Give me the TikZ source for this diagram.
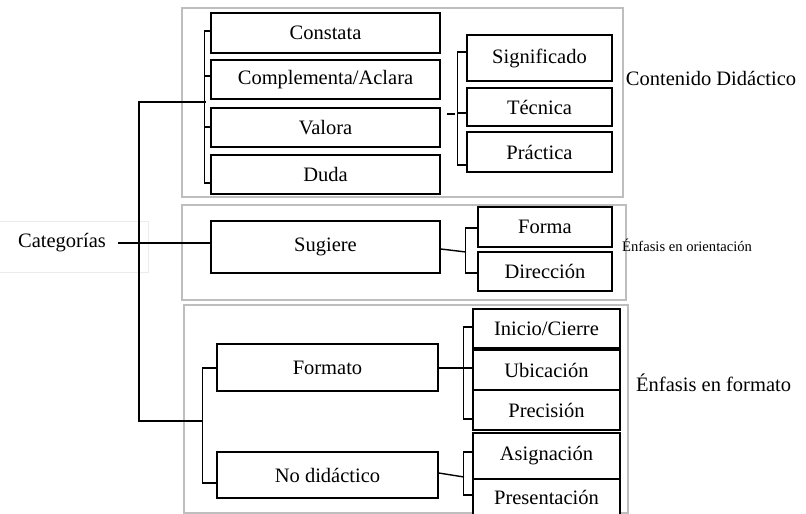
\documentclass[tikz,border=0pt]{standalone}
\usepackage{fontspec}
\setmainfont{Liberation Serif}
\usetikzlibrary{calc}
\definecolor{framegray}{HTML}{BEBEBE}
\definecolor{lightgray}{HTML}{ECECEC}
\tikzset{
  bx/.style={draw=black, line width=1.5pt, fill=white, inner sep=0pt, font=\fontsize{20.5}{24}\selectfont},
  frm/.style={draw=framegray, line width=2pt},
  ln/.style={draw=black, line width=1.4pt},
  lbl/.style={inner sep=0pt, font=\fontsize{20.5}{24}\selectfont},
}
\newcommand{\bxat}[6]{% name, x1,y1,x2,y2, text
  \node[bx, minimum width={(#4-#2)*1pt}, minimum height={(#5-#3)*1pt}] (#1) at ({(#2+#4)/2},{(#3+#5)/2}) {#6};}
\begin{document}
\begin{tikzpicture}[x=1pt,y=-1pt]
\useasboundingbox (0,0) rectangle (806,514);
% frames
\draw[frm] (182,8) rectangle (623,197);
\draw[frm] (182,205) rectangle (626,300);
\draw[frm] (184,305) rectangle (628,513);
\draw[draw=lightgray, line width=1pt] (-5,221) rectangle (148,272);
% labels
\node[lbl] (cat) at (62,243) {Categorías};
\node[lbl] (cont) at (711,78) {Contenido Didáctico};
\node[lbl, anchor=west, font=\fontsize{14.6}{17}\selectfont] (eo) at (622,245) {Énfasis en orientación};
\node[lbl, anchor=west] (ef) at (636,383) {Énfasis en formato};
% boxes
\bxat{constata}{211}{13}{440}{53}{Constata}
\bxat{compl}{211}{60}{440}{99}{Complementa/Aclara}
\bxat{valora}{211}{108}{440}{147}{Valora}
\bxat{duda}{211}{155}{440}{194}{Duda}
\bxat{signif}{467}{35}{612}{81}{Significado}
\bxat{tecnica}{467}{88}{612}{126}{Técnica}
\bxat{practica}{467}{132}{612}{172}{Práctica}
\bxat{sugiere}{211}{221}{440}{273}{Sugiere}
\bxat{forma}{478}{207}{612}{247}{Forma}
\bxat{direccion}{478}{252}{612}{291}{Dirección}
\bxat{formato}{217}{344}{438}{391}{Formato}
\bxat{nodid}{217}{452}{438}{498}{No didáctico}
\bxat{inicio}{473}{309}{620}{348}{Inicio/Cierre}
\bxat{ubic}{473}{350}{620}{390}{Ubicación}
\bxat{precis}{473}{390}{620}{430}{Precisión}
\bxat{asign}{473}{433}{620}{479}{Asignación}
\bxat{present}{473}{479}{620}{516}{Presentación}
% trunk
\coordinate (b1) at (205.5,102);
\coordinate (t1) at (139,102);
\coordinate (t2) at (139,421);
\coordinate (b2) at (203,421);
\draw[ln] (b1) -- (t1) -- (t2) -- (b2);
% categorias to sugiere
\draw[ln] ([xshift=12pt]cat.east) -- (sugiere.west |- cat.east);
% bracket 1
\draw[ln] (constata.west |- 0,31) -- ++(-5.5,0) |- (duda.west |- 0,183);
\draw[ln] (compl.west |- 0,76) -- ++(-5.5,0);
\draw[ln] (valora.west |- 0,127) -- ++(-5.5,0);
% dash near valora
\coordinate (d1) at (447,114);
\coordinate (d2) at (455,114);
\draw[ln] (d1) -- (d2);
% bracket 2
\draw[ln] (signif.west |- 0,52) -- ++(-9,0) |- (practica.west |- 0,165);
\draw[ln] (tecnica.west |- 0,113) -- ++(-9,0);
% sugiere right
\coordinate (s2) at (466,252);
\draw[ln] (sugiere.east |- 0,249) -- (s2);
\draw[ln] (forma.west |- 0,228) -- ++(-12,0) |- (direccion.west |- 0,273);
% formato / no didactico bracket
\draw[ln] (formato.west |- 0,368) -- ++(-14,0) |- (nodid.west |- 0,483);
% formato right
\draw[ln] (formato.east |- 0,368) -- (ubic.west |- 0,368);
\draw[ln] (inicio.west |- 0,327) -- ++(-9,0) |- (precis.west |- 0,419);
% no didactico right
\coordinate (n2) at (464,477);
\draw[ln] (nodid.east |- 0,473) -- (n2);
\draw[ln] (asign.west |- 0,452) -- ++(-9,0) |- (present.west |- 0,495);
\end{tikzpicture}
\end{document}
